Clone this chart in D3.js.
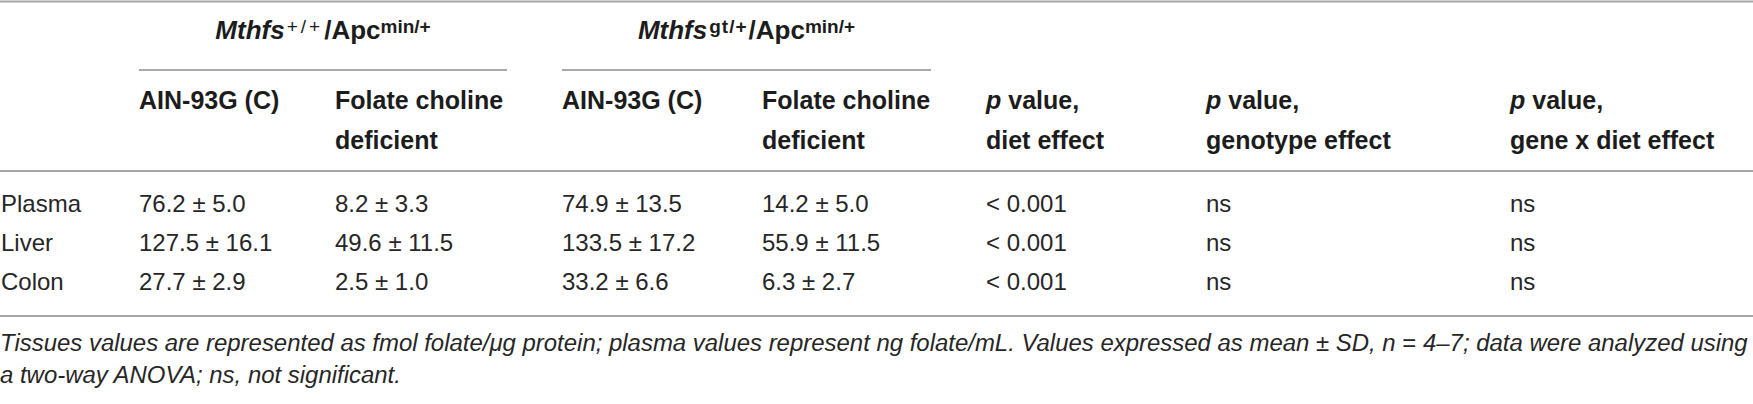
<!DOCTYPE html>
<html lang="en">
<head>
    <meta charset="UTF-8">
    <title>Folate levels table</title>
    <script src="https://d3js.org/d3.v7.min.js"></script>
    <style>
        body { margin: 0; background: #fff; }
        svg { display: block; font-family: "Liberation Sans", Arial, Helvetica, sans-serif; }
    </style>
</head>
<body>
<script type="text/javascript">
    // table content
    var tissues = ["Plasma", "Liver", "Colon"];
    var wtCtrlMean = [76.2, 127.5, 27.7];
    var wtCtrlSd = [5.0, 16.1, 2.9];
    var wtDefMean = [8.2, 49.6, 2.5];
    var wtDefSd = [3.3, 11.5, 1.0];
    var gtCtrlMean = [74.9, 133.5, 33.2];
    var gtCtrlSd = [13.5, 17.2, 6.6];
    var gtDefMean = [14.2, 55.9, 6.3];
    var gtDefSd = [5.0, 11.5, 2.7];
    var pDiet = ["< 0.001", "< 0.001", "< 0.001"];
    var pGenotype = ["ns", "ns", "ns"];
    var pGeneDiet = ["ns", "ns", "ns"];

    var columnKeys = ["tissue", "wtCtrl", "wtDef", "gtCtrl", "gtDef", "pDiet", "pGeno", "pGxD"];
    var headerLine1 = ["", "AIN-93G (C)", "Folate choline", "AIN-93G (C)", "Folate choline", "value,", "value,", "value,"];
    var headerLine2 = ["", "", "deficient", "", "deficient", "diet effect", "genotype effect", "gene x diet effect"];

    var width = 1753;
    var height = 404;
    var fmt = d3.format(".1f");
    var textColor = "#1c1c1c";
    var ruleColor = "#a6a6a6";

    var xScale = d3.scaleOrdinal()
        .domain(columnKeys)
        .range([1, 139, 335, 562, 762, 986, 1206, 1510]);
    var rowScale = d3.scalePoint()
        .domain(tissues)
        .range([212, 290]);

    var svg = d3.select("body").append("svg")
        .attr("width", width)
        .attr("height", height);

    // horizontal rules
    var rules = [1.5, 171, 316];
    svg.selectAll("line.rule")
        .data(rules)
        .enter()
        .append("line")
        .attr("class", "rule")
        .attr("x1", 0)
        .attr("x2", width)
        .attr("y1", function (d) { return d; })
        .attr("y2", function (d) { return d; })
        .attr("stroke", ruleColor)
        .attr("stroke-width", 2);

    // genotype group headers
    var groups = [
        {sup: "+/+", from: "wtCtrl", end: 507},
        {sup: "gt/+", from: "gtCtrl", end: 931}
    ];
    groups.forEach(function (g) {
        var x0 = xScale(g.from);
        svg.append("line")
            .attr("x1", x0)
            .attr("x2", g.end)
            .attr("y1", 70)
            .attr("y2", 70)
            .attr("stroke", "#8c8c8c")
            .attr("stroke-width", 1.6);
        var t = svg.append("text")
            .attr("x", (x0 + g.end) / 2)
            .attr("y", 39)
            .attr("text-anchor", "middle")
            .attr("font-size", 26)
            .attr("font-weight", "bold")
            .attr("fill", textColor);
        t.append("tspan").attr("font-style", "italic").text("Mthfs");
        t.append("tspan")
            .attr("font-size", 19)
            .attr("font-weight", g.sup === "+/+" ? "normal" : "bold")
            .attr("letter-spacing", g.sup === "+/+" ? 3 : 1)
            .attr("dx", 2)
            .attr("dy", -6)
            .text(g.sup);
        t.append("tspan").attr("dy", 6).attr("dx", 1).text("/Apc");
        t.append("tspan").attr("font-size", 19).attr("dy", -6).text("min/+");
    });

    // column headers
    var head = svg.append("g")
        .attr("font-size", 25)
        .attr("font-weight", "bold")
        .attr("fill", textColor);
    columnKeys.forEach(function (k, i) {
        if (headerLine1[i] !== "") {
            var t = head.append("text")
                .attr("x", xScale(k))
                .attr("y", 109);
            if (k.charAt(0) === "p") {
                t.append("tspan").attr("font-style", "italic").text("p");
                t.append("tspan").text(" " + headerLine1[i]);
            } else {
                t.text(headerLine1[i]);
            }
        }
        if (headerLine2[i] !== "") {
            head.append("text")
                .attr("x", xScale(k))
                .attr("y", 149)
                .text(headerLine2[i]);
        }
    });

    // body rows
    var cell = function (m, s) {
        return function (d, i) { return fmt(m[i]) + " \u00b1 " + fmt(s[i]); };
    };
    var bodyCols = [
        {key: "tissue", value: function (d) { return d; }},
        {key: "wtCtrl", value: cell(wtCtrlMean, wtCtrlSd)},
        {key: "wtDef", value: cell(wtDefMean, wtDefSd)},
        {key: "gtCtrl", value: cell(gtCtrlMean, gtCtrlSd)},
        {key: "gtDef", value: cell(gtDefMean, gtDefSd)},
        {key: "pDiet", value: function (d, i) { return pDiet[i]; }},
        {key: "pGeno", value: function (d, i) { return pGenotype[i]; }},
        {key: "pGxD", value: function (d, i) { return pGeneDiet[i]; }}
    ];
    var bodyG = svg.append("g")
        .attr("font-size", 24)
        .attr("fill", "#262626");
    bodyCols.forEach(function (c) {
        bodyG.selectAll("text.c-" + c.key)
            .data(tissues)
            .enter()
            .append("text")
            .attr("class", "c-" + c.key)
            .attr("x", xScale(c.key))
            .attr("y", function (d) { return rowScale(d); })
            .text(c.value);
    });

    // footnote
    var note = svg.append("g")
        .attr("font-style", "italic")
        .attr("fill", "#262626")
        .attr("font-size", 24);
    var line1 = note.append("text").attr("x", 0).attr("y", 351);
    line1.append("tspan").text("Tissues values are represented as fmol folate/\u03bcg protein; plasma values represent ng folate/mL. Values expressed as mean");
    line1.append("tspan").attr("font-style", "normal").text(" \u00b1 ");
    line1.append("tspan").text("SD, n");
    line1.append("tspan").attr("font-style", "normal").text(" = ");
    line1.append("tspan").text("4\u20137; data were analyzed using");
    note.append("text").attr("x", 0).attr("y", 383)
        .text("a two-way ANOVA; ns, not significant.");

    // scale the footnote so the first line spans the page
    var w = line1.node().getComputedTextLength();
    note.attr("font-size", 24 * 1748 / w);
</script>
</body>
</html>
